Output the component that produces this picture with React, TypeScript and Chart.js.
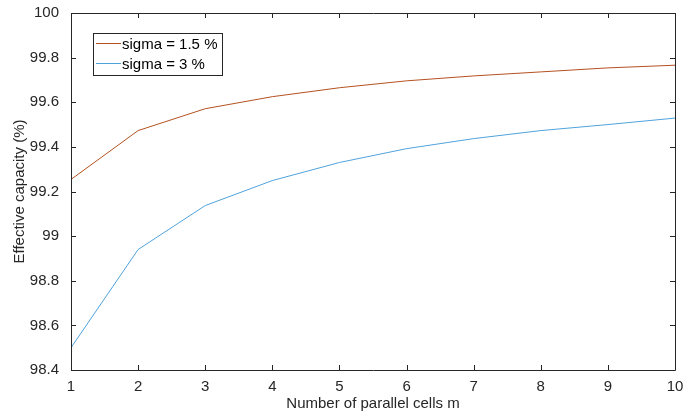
import React, { useEffect, useRef } from "react";
import { Chart, registerables } from "chart.js";

Chart.register(...registerables);

const cells = [1, 2, 3, 4, 5, 6, 7, 8, 9, 10];
const sigma15 = [99.254, 99.473, 99.571, 99.625, 99.665, 99.696, 99.718, 99.736, 99.754, 99.766];
const sigma3 = [98.5, 98.94, 99.137, 99.249, 99.33, 99.392, 99.437, 99.473, 99.5, 99.529];
const seriesLabels = ["sigma = 1.5 %", "sigma = 3 %"];
const seriesColors = ["#B4511F", "#4FA3DC"];
const xTicks = [1, 2, 3, 4, 5, 6, 7, 8, 9, 10];
const yTicks = [98.4, 98.6, 98.8, 99, 99.2, 99.4, 99.6, 99.8, 100];

const FONT = "Arial, 'Liberation Sans', sans-serif";

const framePlugin = {
  id: "frame",
  afterDraw(chart: any) {
    const { ctx, chartArea } = chart;
    const { left, right, top, bottom } = chartArea;
    const xs = chart.scales.x;
    const ys = chart.scales.y;
    ctx.save();
    ctx.strokeStyle = "#262626";
    ctx.lineWidth = 1;
    ctx.beginPath();
    ctx.rect(Math.round(left) + 0.5, Math.round(top) + 0.5, Math.round(right - left), Math.round(bottom - top));
    ctx.stroke();
    const tl = 5;
    ctx.beginPath();
    xTicks.forEach((v) => {
      const px = Math.round(xs.getPixelForValue(v)) + 0.5;
      ctx.moveTo(px, bottom);
      ctx.lineTo(px, bottom - tl);
      ctx.moveTo(px, top);
      ctx.lineTo(px, top + tl);
    });
    yTicks.forEach((v) => {
      const py = Math.round(ys.getPixelForValue(v)) + 0.5;
      ctx.moveTo(left, py);
      ctx.lineTo(left + tl, py);
      ctx.moveTo(right, py);
      ctx.lineTo(right - tl, py);
    });
    ctx.stroke();

    // legend box
    const bx = 93.5, by = 33.5, bw = 129, bh = 42;
    ctx.fillStyle = "#ffffff";
    ctx.fillRect(bx, by, bw, bh);
    ctx.strokeStyle = "#262626";
    ctx.strokeRect(bx, by, bw, bh);
    ctx.font = "15px " + FONT;
    ctx.textBaseline = "middle";
    ctx.textAlign = "left";
    seriesLabels.forEach((lab, i) => {
      const y = 43.5 + i * 20;
      ctx.strokeStyle = seriesColors[i];
      ctx.beginPath();
      ctx.moveTo(96, y);
      ctx.lineTo(121, y);
      ctx.stroke();
      ctx.fillStyle = "#000000";
      ctx.fillText(lab, 122, y + 1);
    });
    ctx.restore();
  },
};

export default function App() {
  const ref = useRef<HTMLCanvasElement>(null);
  useEffect(() => {
    document.body.style.margin = "0";
    const canvas = ref.current!;
    const chart = new Chart(canvas, {
      type: "line",
      data: {
        datasets: [
          {
            label: seriesLabels[0],
            data: cells.map((c, i) => ({ x: c, y: sigma15[i] })),
            borderColor: seriesColors[0],
            borderWidth: 1,
            pointRadius: 0,
            fill: false,
            tension: 0,
          },
          {
            label: seriesLabels[1],
            data: cells.map((c, i) => ({ x: c, y: sigma3[i] })),
            borderColor: seriesColors[1],
            borderWidth: 1,
            pointRadius: 0,
            fill: false,
            tension: 0,
          },
        ],
      },
      options: {
        animation: false,
        responsive: false,
        maintainAspectRatio: false,
        layout: { padding: { left: 0, right: 25, top: 12, bottom: 0 } },
        plugins: { legend: { display: false }, tooltip: { enabled: false } },
        scales: {
          x: {
            type: "linear",
            min: 1,
            max: 10,
            grid: { display: false },
            border: { display: false },
            afterBuildTicks: (s: any) => {
              s.ticks = xTicks.map((v) => ({ value: v }));
            },
            afterFit: (s: any) => {
              s.height = 47;
            },
            ticks: {
              font: { family: FONT, size: 15 },
              color: "#262626",
              padding: 0,
              maxRotation: 0,
              autoSkip: false,
            },
            title: {
              display: true,
              text: "Number of parallel cells m",
              font: { family: FONT, size: 15 },
              color: "#262626",
              padding: { top: 0, bottom: 4 },
            },
          },
          y: {
            type: "linear",
            min: 98.4,
            max: 100,
            grid: { display: false },
            border: { display: false },
            afterBuildTicks: (s: any) => {
              s.ticks = yTicks.map((v) => ({ value: v }));
            },
            afterFit: (s: any) => {
              s.width = 71;
            },
            ticks: {
              font: { family: FONT, size: 15 },
              color: "#262626",
              padding: 4,
              autoSkip: false,
              callback: (v: any) => String(Number(Number(v).toFixed(1))),
            },
            title: {
              display: true,
              text: "Effective capacity (%)",
              font: { family: FONT, size: 15 },
              color: "#262626",
              padding: { top: 11, bottom: 0 },
            },
          },
        },
      },
      plugins: [framePlugin],
    });
    return () => chart.destroy();
  }, []);
  return (
    <div style={{ width: 700, height: 417 }}>
      <canvas ref={ref} width={700} height={417} style={{ display: "block" }} />
    </div>
  );
}
